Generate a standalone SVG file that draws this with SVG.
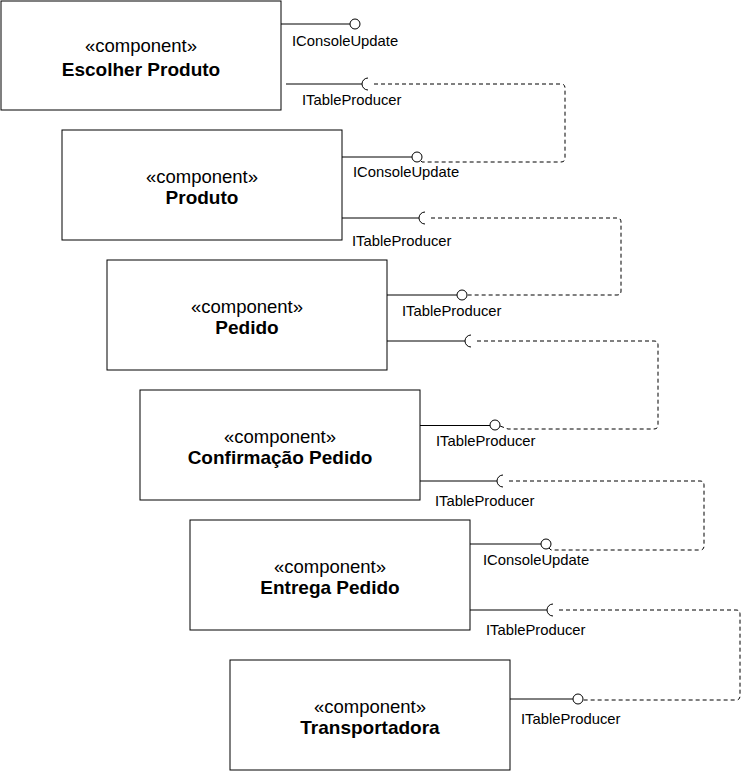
<svg xmlns="http://www.w3.org/2000/svg" width="743" height="771" viewBox="0 0 743 771">
<style>
.box{fill:#fff;stroke:#000;stroke-width:1}
.st{font-family:"Liberation Sans",Arial,sans-serif;font-size:18.5px;text-anchor:middle;fill:#000}
.nm{font-family:"Liberation Sans",Arial,sans-serif;font-size:19px;font-weight:bold;text-anchor:middle;fill:#000}
.lbl{font-family:"Liberation Sans",Arial,sans-serif;font-size:14.8px;fill:#000}
.ln{fill:none;stroke:#000;stroke-width:1}
.dash{fill:none;stroke:#000;stroke-width:1;stroke-dasharray:4 3}
.lol{fill:#fff;stroke:#000;stroke-width:1}
</style>
<rect width="743" height="771" fill="#fff"/>
<g id="escolher-produto">
<rect class="box" x="1" y="1" width="280" height="109"/>
<text class="st" x="141" y="52">«component»</text>
<text class="nm" x="141" y="75.5">Escolher Produto</text>
</g>
<g id="produto">
<rect class="box" x="62" y="130" width="280" height="110"/>
<text class="st" x="202" y="182.5">«component»</text>
<text class="nm" x="202" y="204">Produto</text>
</g>
<g id="pedido">
<rect class="box" x="107" y="260" width="280" height="110"/>
<text class="st" x="247" y="312.5">«component»</text>
<text class="nm" x="247" y="334">Pedido</text>
</g>
<g id="confirmacao-pedido">
<rect class="box" x="140" y="390" width="280" height="110"/>
<text class="st" x="280" y="442.5">«component»</text>
<text class="nm" x="280" y="464">Confirmação Pedido</text>
</g>
<g id="entrega-pedido">
<rect class="box" x="190" y="520" width="280" height="110"/>
<text class="st" x="330" y="572.5">«component»</text>
<text class="nm" x="330" y="594">Entrega Pedido</text>
</g>
<g id="transportadora">
<rect class="box" x="230" y="660" width="280" height="110"/>
<text class="st" x="370" y="712.5">«component»</text>
<text class="nm" x="370" y="734">Transportadora</text>
</g>
<g id="connectors">
<!-- Escolher Produto -->
<path class="ln" d="M281 24H350"/><circle class="lol" cx="355" cy="24" r="5"/>
<text class="lbl" x="292" y="46">IConsoleUpdate</text>
<path class="ln" d="M286 84H362"/><path class="ln" d="M368 78A6 6 0 0 0 368 90"/>
<text class="lbl" x="302" y="105">ITableProducer</text>
<path class="dash" d="M374 84H561Q565 84 565 88V158Q565 162 561 162H422L420 160"/>
<!-- Produto -->
<path class="ln" d="M342 157H412"/><circle class="lol" cx="417" cy="157" r="5"/>
<text class="lbl" x="353" y="177">IConsoleUpdate</text>
<path class="ln" d="M342 218H419"/><path class="ln" d="M425 212A6 6 0 0 0 425 224"/>
<text class="lbl" x="352" y="246">ITableProducer</text>
<path class="dash" d="M431 218H617Q621 218 621 222V291Q621 295 617 295H467"/>
<!-- Pedido -->
<path class="ln" d="M387 295H457"/><circle class="lol" cx="462" cy="295" r="5"/>
<text class="lbl" x="402" y="316">ITableProducer</text>
<path class="ln" d="M387 341H465"/><path class="ln" d="M471 335A6 6 0 0 0 471 347"/>
<path class="dash" d="M477 341H654Q658 341 658 345V425Q658 429 654 429H508L500 426"/>
<!-- Confirmação Pedido -->
<path class="ln" d="M420 425.5H490"/><circle class="lol" cx="495" cy="425" r="5"/>
<text class="lbl" x="436" y="446">ITableProducer</text>
<path class="ln" d="M420 481H497"/><path class="ln" d="M503 475A6 6 0 0 0 503 487"/>
<text class="lbl" x="435" y="506">ITableProducer</text>
<path class="dash" d="M509 481H700Q704 481 704 485V546Q704 550 700 550H551L549 548"/>
<!-- Entrega Pedido -->
<path class="ln" d="M470 544H541"/><circle class="lol" cx="546" cy="544" r="5"/>
<text class="lbl" x="483" y="565">IConsoleUpdate</text>
<path class="ln" d="M470 610H547"/><path class="ln" d="M553 604A6 6 0 0 0 553 616"/>
<text class="lbl" x="486" y="635">ITableProducer</text>
<path class="dash" d="M559 610H736Q740 610 740 614V696Q740 700 736 700H583"/>
<!-- Transportadora -->
<path class="ln" d="M510 699H573"/><circle class="lol" cx="578" cy="699" r="5"/>
<text class="lbl" x="521" y="724">ITableProducer</text>
</g>
</svg>
